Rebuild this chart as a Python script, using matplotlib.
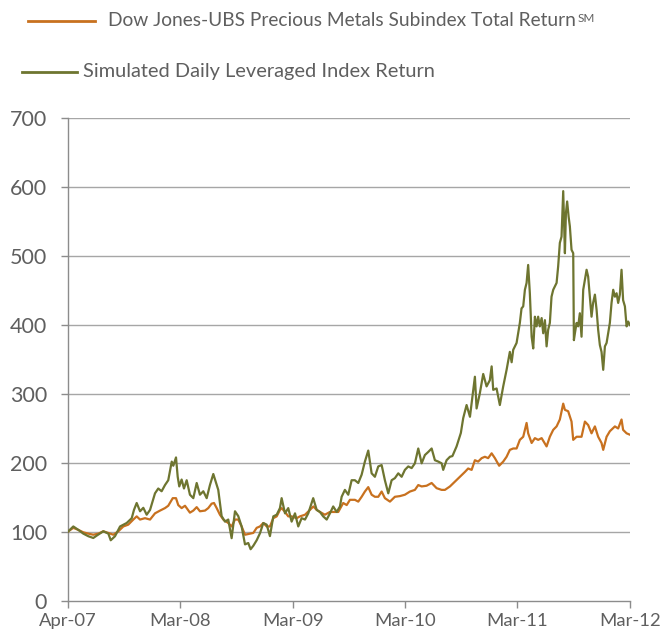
import matplotlib
matplotlib.use("Agg")
import matplotlib.pyplot as plt
from matplotlib.lines import Line2D

# x = years since Apr-07 (0 = Apr-07, 5 = Mar-12)
tick_labels = ["Apr-07", "Mar-08", "Mar-09", "Mar-10", "Mar-11", "Mar-12"]

lev_x = [0.003, 0.047, 0.092, 0.136, 0.181, 0.225, 0.255, 0.314, 0.359, 0.380,
         0.418, 0.463, 0.522, 0.567, 0.587, 0.611, 0.641, 0.670, 0.700, 0.730,
         0.774, 0.803, 0.833, 0.863, 0.892, 0.923, 0.937, 0.961, 0.976, 0.990,
         1.011, 1.032, 1.056, 1.085, 1.115, 1.145, 1.174, 1.204, 1.234, 1.263,
         1.293, 1.314, 1.337, 1.367, 1.397, 1.426, 1.456, 1.486, 1.515, 1.545,
         1.575, 1.604, 1.625, 1.649, 1.679, 1.708, 1.738, 1.768, 1.797, 1.827,
         1.857, 1.886, 1.901, 1.915, 1.931, 1.960, 1.990, 2.020, 2.049, 2.079,
         2.109, 2.138, 2.168, 2.182, 2.213, 2.242, 2.271, 2.302, 2.331, 2.360,
         2.391, 2.420, 2.435, 2.464, 2.494, 2.524, 2.553, 2.583, 2.613, 2.642,
         2.672, 2.702, 2.731, 2.761, 2.791, 2.820, 2.850, 2.880, 2.909, 2.939,
         2.969, 2.998, 3.028, 3.058, 3.087, 3.117, 3.147, 3.176, 3.206, 3.236,
         3.265, 3.295, 3.325, 3.339, 3.369, 3.399, 3.421, 3.458, 3.496, 3.517,
         3.547, 3.577, 3.606, 3.621, 3.636, 3.665, 3.695, 3.725, 3.754, 3.770,
         3.784, 3.814, 3.843, 3.873, 3.903, 3.932, 3.948, 3.962, 3.992, 4.021,
         4.036, 4.051, 4.066, 4.081, 4.095, 4.110, 4.126, 4.140, 4.155, 4.170,
         4.184, 4.199, 4.215, 4.229, 4.244, 4.259, 4.273, 4.288, 4.303, 4.318,
         4.348, 4.362, 4.377, 4.392, 4.407, 4.422, 4.431, 4.442, 4.455, 4.466,
         4.481, 4.496, 4.502, 4.511, 4.526, 4.540, 4.555, 4.570, 4.585, 4.600,
         4.615, 4.629, 4.644, 4.659, 4.673, 4.689, 4.704, 4.718, 4.733, 4.748,
         4.763, 4.778, 4.793, 4.807, 4.822, 4.837, 4.852, 4.867, 4.882, 4.896,
         4.911, 4.926, 4.940, 4.956, 4.971, 4.985, 5.000]
lev_y = [101, 108, 103, 97.6, 93.8, 91.3, 94.7, 101, 97.6, 88,
         93.8, 108, 113, 120, 132, 142, 130, 135, 125, 132,
         156, 163, 159, 168, 175, 202, 196, 208, 180, 166,
         176, 163, 175, 154, 149, 171, 154, 159, 149, 168,
         184, 173, 161, 123, 115, 118, 91, 130, 123, 108,
         82, 84, 75, 80, 88, 98, 113, 110.6, 94, 122.6,
         125, 134.6, 149, 139, 127, 134.6, 115, 127, 108, 120,
         118, 127, 142, 149, 132, 129, 122.6, 118, 127, 137,
         129, 137, 151, 161, 154, 175, 175, 171, 183, 202,
         218, 185, 180, 195, 197, 175, 156, 175, 178, 185,
         180, 190, 195, 192.6, 199.5, 221, 199.5, 211.5, 216, 221,
         204, 202, 199.5, 190, 204, 209, 210, 224, 243.5, 265,
         284, 267, 306, 325, 279, 301, 329, 311, 320, 340,
         306, 308, 284, 311, 335, 361, 346, 364, 374, 403,
         424, 427, 451, 461, 487, 446, 383, 366, 412, 398,
         412, 398, 410, 388, 407, 369, 393, 403, 441, 451,
         461, 485, 519, 528, 594, 504, 562, 579, 557, 543,
         509, 504, 378, 388, 403, 398, 417, 383, 451, 466,
         480, 470, 441, 412, 432, 444, 422, 393, 371, 361,
         335, 369, 374, 388, 403, 432, 451, 441, 446, 432,
         444, 480, 436, 427, 398, 405, 400]

djubs_x = [0.003, 0.047, 0.092, 0.136, 0.181, 0.225, 0.270, 0.314, 0.359, 0.403,
           0.448, 0.492, 0.536, 0.581, 0.611, 0.641, 0.685, 0.730, 0.774, 0.819,
           0.863, 0.892, 0.932, 0.961, 0.981, 1.011, 1.041, 1.085, 1.115, 1.145,
           1.174, 1.219, 1.248, 1.278, 1.299, 1.323, 1.352, 1.382, 1.426, 1.456,
           1.486, 1.515, 1.545, 1.575, 1.619, 1.649, 1.679, 1.708, 1.738, 1.768,
           1.797, 1.827, 1.857, 1.886, 1.901, 1.931, 1.960, 1.990, 2.035, 2.064,
           2.109, 2.153, 2.183, 2.213, 2.242, 2.286, 2.331, 2.375, 2.405, 2.449,
           2.480, 2.509, 2.553, 2.583, 2.613, 2.642, 2.672, 2.702, 2.731, 2.761,
           2.791, 2.820, 2.865, 2.909, 2.954, 2.998, 3.043, 3.087, 3.117, 3.147,
           3.191, 3.236, 3.280, 3.325, 3.354, 3.399, 3.443, 3.488, 3.532, 3.561,
           3.592, 3.621, 3.650, 3.681, 3.710, 3.739, 3.770, 3.799, 3.837, 3.873,
           3.903, 3.932, 3.962, 3.992, 4.021, 4.051, 4.081, 4.095, 4.126, 4.155,
           4.184, 4.215, 4.259, 4.288, 4.318, 4.348, 4.377, 4.407, 4.422, 4.451,
           4.481, 4.496, 4.526, 4.570, 4.600, 4.629, 4.659, 4.689, 4.718, 4.748,
           4.763, 4.793, 4.822, 4.867, 4.896, 4.926, 4.940, 4.971, 5.000]
djubs_y = [101, 106, 103, 99.5, 97.6, 96, 97.6, 101, 98.6, 96,
           101, 108, 110.6, 118, 122.6, 118, 120, 118, 127, 131,
           134.6, 138, 149, 149, 139, 134.6, 138, 128, 131, 136,
           130, 131, 134.6, 141, 142, 134.6, 125, 118, 113, 108,
           118, 118, 108, 96, 97.6, 98.6, 106, 108, 113, 108,
           108, 120, 122.6, 132, 134.6, 129, 122.6, 122.6, 120, 122.6,
           125, 132, 137, 132, 129, 125, 129, 129, 129, 142,
           139, 146.6, 146.6, 144, 151, 158.6, 165, 154, 151, 151,
           158.6, 149, 144, 151, 152, 154, 158.6, 161, 168, 166,
           167, 171, 163.5, 161, 161, 166, 173, 180, 187, 192,
           190, 204, 202, 207, 209, 207, 214, 207, 196, 202,
           209, 219, 221, 221, 233.5, 238, 258, 243, 229, 236,
           233.5, 236, 224, 238, 248, 253, 263, 286, 277, 275,
           260, 233.5, 238, 238, 260, 255, 243, 253, 238, 229,
           219, 238, 246, 253, 250, 263, 248, 243, 241]

ORANGE = "#C8711F"
GREEN = "#6E7530"
TEXT = "#5F5F5F"
GRID = "#A6A6A6"

plt.rcParams["font.family"] = ["Lato", "DejaVu Sans"]

fig = plt.figure(figsize=(6.63, 6.33), dpi=100)
ax = fig.add_axes([0.1026, 0.0506, 0.8474, 0.763])

ax.plot(djubs_x, djubs_y, color=ORANGE, lw=1.6, zorder=3)
ax.plot(lev_x, lev_y, color=GREEN, lw=1.6, zorder=4)

ax.set_xlim(0, 5)
ax.set_ylim(0, 700)
ax.set_yticks(range(0, 701, 100))
ax.set_xticks(range(6))
ax.set_xticklabels(tick_labels)
for v in range(100, 701, 100):
    ax.axhline(v, color=GRID, lw=1.0, zorder=1)

for s in ["top", "right"]:
    ax.spines[s].set_visible(False)
for s in ["left", "bottom"]:
    ax.spines[s].set_color("#8C8C8C")
    ax.spines[s].set_linewidth(1.0)
ax.tick_params(axis="both", colors="#8C8C8C", labelcolor=TEXT, length=5, width=1.0)
ax.tick_params(axis="x", pad=3.5, labelsize=13.3)
ax.tick_params(axis="y", pad=10, labelsize=15.5)

# legend drawn by hand
fig.add_artist(Line2D([28 / 663, 95 / 663], [1 - 21 / 633] * 2, color=ORANGE, lw=2))
t1 = fig.text(108 / 663, 1 - 21 / 633, "Dow Jones-UBS Precious Metals Subindex Total Return",
              color=TEXT, fontsize=13.8, va="center", ha="left")
fig.add_artist(Line2D([22 / 663, 77 / 663], [1 - 72 / 633] * 2, color=GREEN, lw=2))
fig.text(83 / 663, 1 - 72 / 633, "Simulated Daily Leveraged Index Return",
         color=TEXT, fontsize=14.4, va="center", ha="left")

# superscript right after the first legend label
fig.canvas.draw()
bb = t1.get_window_extent()
fig.text(bb.x1 / fig.bbox.width + 0.002, 1 - 18 / 633, "SM", color=TEXT,
         fontsize=8.5, va="center", ha="left")

fig.savefig("out.png", dpi=100)
